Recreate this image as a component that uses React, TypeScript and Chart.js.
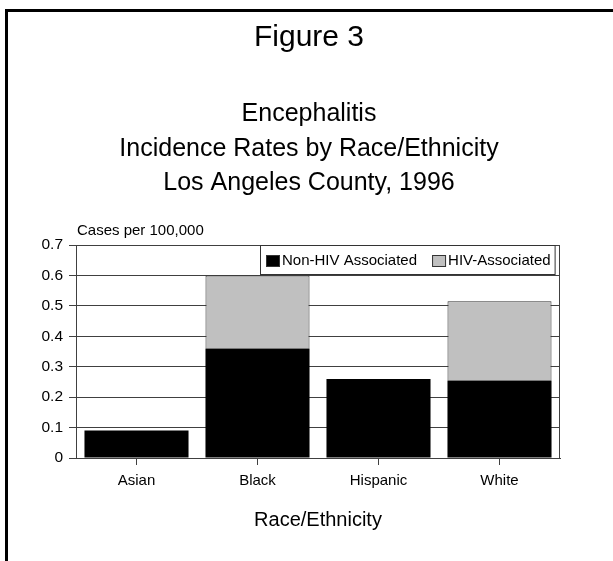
import { useEffect, useRef } from "react";
import { Chart, registerables } from "chart.js";

Chart.register(...registerables);

const figureTitle = "Figure 3";
const titleLines = [
  "Encephalitis",
  "Incidence Rates by Race/Ethnicity",
  "Los Angeles County, 1996",
];
const categories = ["Asian", "Black", "Hispanic", "White"];
const seriesLabels = ["Non-HIV Associated", "HIV-Associated"];
const nonHivValues = [0.09, 0.36, 0.26, 0.255];
const hivValues = [0, 0.24, 0, 0.26];
const yTickLabels = ["0", "0.1", "0.2", "0.3", "0.4", "0.5", "0.6", "0.7"];
const yAxisLabel = "Cases per 100,000";
const xAxisLabel = "Race/Ethnicity";

const FONT = '"Liberation Sans", Arial, Helvetica, sans-serif';
const GRID = "#404040";
const seriesColors = ["#000000", "#c0c0c0"];

const decorPlugin = {
  id: "decor",
  afterDraw(chart: any) {
    const { ctx, chartArea: a } = chart;
    ctx.save();
    // right border of plot area
    ctx.strokeStyle = GRID;
    ctx.lineWidth = 1;
    ctx.beginPath();
    const rx = Math.round(a.right) - 0.5;
    ctx.moveTo(rx, Math.round(a.top) + 0.5);
    ctx.lineTo(rx, Math.round(a.bottom) + 0.5);
    ctx.stroke();

    // y axis caption above axis
    ctx.fillStyle = "#000";
    ctx.font = `15px ${FONT}`;
    ctx.textAlign = "left";
    ctx.textBaseline = "alphabetic";
    ctx.fillText(yAxisLabel, a.left + 1, a.top - 10);

    // legend inside plot area, top right
    const fs = 15;
    ctx.font = `${fs}px ${FONT}`;
    const padL = 6;
    const sw = 14;
    const sh = 12;
    const gapBoxText = 2;
    const gapItems = 15;
    const padR = 4;
    const items = chart.data.datasets.map((d: any, i: number) => ({
      label: d.label,
      color: seriesColors[i],
      w: ctx.measureText(d.label).width,
    }));
    let total = padL + padR;
    items.forEach((it: any, i: number) => {
      total += sw + gapBoxText + it.w + (i > 0 ? gapItems : 0);
    });
    const lh = 29;
    const lx = Math.round(a.right - 5 - total);
    const ly = Math.round(a.top);
    ctx.fillStyle = "#fff";
    ctx.fillRect(lx, ly, total, lh);
    ctx.strokeStyle = "#333";
    ctx.lineWidth = 1;
    ctx.strokeRect(lx + 0.5, ly + 0.5, total, lh);
    let x = lx + padL;
    const cy = ly + 16;
    items.forEach((it: any, i: number) => {
      if (i > 0) x += gapItems;
      ctx.fillStyle = it.color;
      ctx.fillRect(x, cy - sh / 2, sw, sh);
      ctx.strokeStyle = "#333";
      ctx.strokeRect(x + 0.5, cy - sh / 2 + 0.5, sw - 1, sh - 1);
      x += sw + gapBoxText;
      ctx.fillStyle = "#000";
      ctx.textBaseline = "middle";
      ctx.fillText(it.label, x, cy);
      x += it.w;
    });
    ctx.restore();
  },
};

export default function App() {
  const ref = useRef<HTMLCanvasElement | null>(null);

  useEffect(() => {
    if (!ref.current) return;
    Chart.defaults.font.family = FONT;
    const chart = new Chart(ref.current, {
      type: "bar",
      data: {
        labels: categories,
        datasets: [
          {
            label: seriesLabels[0],
            data: nonHivValues,
            backgroundColor: seriesColors[0],
            borderColor: "#000",
            borderWidth: 0,
            barPercentage: 0.86,
            categoryPercentage: 1,
          },
          {
            label: seriesLabels[1],
            data: hivValues,
            backgroundColor: seriesColors[1],
            borderColor: "#333",
            borderWidth: (c: any) => (c.raw ? 1 : 0),
            barPercentage: 0.86,
            categoryPercentage: 1,
          },
        ],
      },
      options: {
        responsive: false,
        animation: false,
        events: [],
        layout: { padding: { left: 5, right: 0, top: 0, bottom: 0 } },
        plugins: {
          legend: { display: false },
          tooltip: { enabled: false },
          title: {
            display: true,
            text: figureTitle,
            color: "#000",
            font: { size: 30, weight: "normal", lineHeight: 1.2 },
            padding: { top: 19.6, bottom: 0 },
          },
          subtitle: {
            display: true,
            text: titleLines,
            color: "#000",
            font: { size: 25, weight: "normal", lineHeight: 1.38 },
            padding: { top: 41.45, bottom: 44.45 },
          },
        },
        scales: {
          x: {
            stacked: true,
            grid: {
              display: true,
              drawOnChartArea: false,
              drawTicks: true,
              tickLength: 7,
              offset: false,
              color: GRID,
            },
            border: { display: true, color: GRID },
            ticks: { color: "#000", font: { size: 15 }, padding: 7 },
            title: {
              display: true,
              text: xAxisLabel,
              color: "#000",
              font: { size: 20, lineHeight: 1.2 },
              padding: { top: 0, bottom: 29 },
            },
            afterFit: (s: any) => {
              s.height = 103;
            },
          },
          y: {
            stacked: true,
            min: 0,
            max: 0.7,
            ticks: {
              stepSize: 0.1,
              color: "#000",
              font: { size: 15.5 },
              padding: 6,
              callback: (_v: any, i: number) => yTickLabels[i],
            },
            grid: { color: GRID, tickLength: 7 },
            border: { display: true, color: GRID },
            afterFit: (s: any) => {
              s.width = 71;
            },
          },
          yRightSpace: {
            type: "linear",
            position: "right",
            display: true,
            grid: { display: false, drawTicks: false },
            border: { display: false },
            ticks: { display: false },
            afterFit: (s: any) => {
              s.width = 53;
            },
          },
        },
      },
      plugins: [decorPlugin],
    } as any);
    return () => chart.destroy();
  }, []);

  return (
    <div
      style={{
        position: "absolute",
        left: 0,
        top: 0,
        width: 613,
        height: 561,
        background: "#fff",
        overflow: "hidden",
      }}
    >
      <canvas
        ref={ref}
        width={613}
        height={561}
        style={{ position: "absolute", left: 0, top: 0, display: "block" }}
      />
      <div
        style={{
          position: "absolute",
          left: 5,
          top: 9,
          right: 0,
          bottom: 0,
          borderTop: "3px solid #000",
          borderLeft: "3px solid #000",
          pointerEvents: "none",
        }}
      />
    </div>
  );
}
